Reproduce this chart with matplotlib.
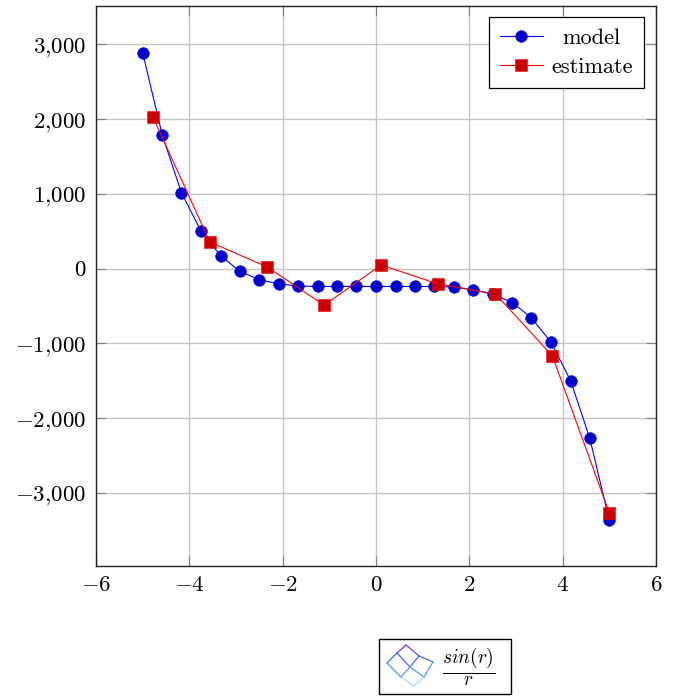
#Recreate the model / estimate line chart
import matplotlib
matplotlib.use("Agg")
import matplotlib.pyplot as plt
from matplotlib.ticker import FuncFormatter
from matplotlib.patches import Rectangle

plt.rcParams['font.family'] = ['cmr10', 'DejaVu Sans']
plt.rcParams['mathtext.fontset'] = 'cm'
plt.rcParams['axes.formatter.use_mathtext'] = True
plt.rcParams['axes.unicode_minus'] = False

W, H = 674, 698

model_x = [-5, -4.58, -4.17, -3.75, -3.33, -2.92, -2.5, -2.08, -1.67, -1.25, -0.83, -0.42, 0,
           0.42, 0.83, 1.25, 1.67, 2.08, 2.5, 2.92, 3.33, 3.75, 4.17, 4.58, 5]
model_y = [2885, 1785, 1015, 500, 170, -35, -150, -205, -235, -240, -240, -240, -240,
           -240, -240, -240, -250, -285, -345, -455, -660, -985, -1500, -2270, -3370]
estimate_x = [-4.78, -3.56, -2.33, -1.11, 0.11, 1.33, 2.56, 3.78, 5.0]
estimate_y = [2027, 355, 20, -490, 47, -207, -340, -1170, -3270]
x_ticks = [-6, -4, -2, 0, 2, 4, 6]
y_ticks = [-3000, -2000, -1000, 0, 1000, 2000, 3000]

# the little surface icon, one list per mesh row, in pixels of the icon box
icon_x = [[406, 419, 433], [397, 410, 424], [387, 401, 414]]
icon_y = [[645, 656, 662], [653, 667, 677], [663, 677, 686]]


def fmt_y(v, pos):
    s = f"{abs(int(v)):,}".replace(",", "{,}")
    return f"$-{s}$" if v < 0 else f"${s}$"


fig = plt.figure(figsize=(W / 100, H / 100), dpi=100)
ax = fig.add_axes([96 / W, 1 - 566 / H, 560 / W, 560 / H])

ax.plot(model_x, model_y, color='#0000ff', lw=0.8, marker='o', ms=8.4,
        mfc='#0000cc', mec='#0000ff', mew=0.4, label='model', clip_on=False, zorder=3)
ax.plot(estimate_x, estimate_y, color='#ff0000', lw=0.8, marker='s', ms=8,
        mfc='#cc0000', mec='#ff0000', mew=0.4, label='estimate', clip_on=False, zorder=4)

ax.set_xlim(-6, 6)
ax.set_ylim(-3980, 3512)
ax.set_xticks(x_ticks)
ax.set_yticks(y_ticks)
ax.xaxis.set_major_formatter(FuncFormatter(lambda v, pos: f"$-{abs(int(v))}$" if v < 0 else f"${int(v)}$"))
ax.yaxis.set_major_formatter(FuncFormatter(fmt_y))
ax.tick_params(direction='in', length=7.5, width=0.8, color='#7f7f7f', top=True, right=True,
               labelsize=16.5, labelcolor='black', pad=7)
ax.grid(True, color='#c4c4c4', lw=1)
ax.set_axisbelow(True)
for s in ax.spines.values():
    s.set_color('#222222')
    s.set_linewidth(1)

leg = ax.legend(loc='upper right', bbox_to_anchor=(644 / W, 1 - 17 / H), bbox_transform=fig.transFigure,
                fontsize=16, fancybox=False, framealpha=1, edgecolor='black', borderaxespad=0,
                borderpad=0.5, labelspacing=0.45, handlelength=1.9, handletextpad=0.4)
leg.get_frame().set_linewidth(0.9)
# model is centred over estimate in the reference
leg.get_texts()[0].set_ha('center')
leg.get_texts()[0].set_position((11, 0))

# colour bar box under the plot, drawn in figure pixels
pix = fig.add_axes([0, 0, 1, 1], facecolor='none')
pix.set_xlim(0, W)
pix.set_ylim(H, 0)
pix.axis('off')
pix.add_patch(Rectangle((379, 639), 132, 55, fc='white', ec='black', lw=1))
shades = ['#7a3cf0', '#3f6cf2', '#4f9cf8', '#a8d4fb']
for r in range(3):
    for c in range(3):
        level = min(r + c, 3)
        if c < 2:
            pix.plot([icon_x[r][c], icon_x[r][c + 1]], [icon_y[r][c], icon_y[r][c + 1]],
                     color=shades[level], lw=0.9)
        if r < 2:
            pix.plot([icon_x[r][c], icon_x[r + 1][c]], [icon_y[r][c], icon_y[r + 1][c]],
                     color=shades[level], lw=0.9)
pix.text(469, 667, r"$\frac{sin(r)}{r}$", fontsize=20, ha='center', va='center')

fig.savefig("out.png", dpi=100)
